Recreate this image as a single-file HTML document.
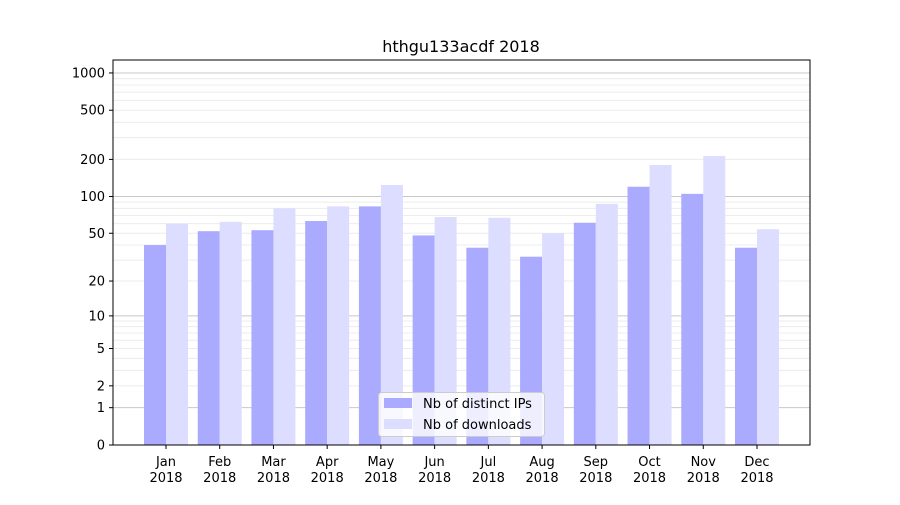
<!DOCTYPE html>
<html><head><meta charset="utf-8"><style>
body{margin:0;background:#fff;font-family:"Liberation Sans","DejaVu Sans",sans-serif}
svg text{font-family:"DejaVu Sans","Liberation Sans",sans-serif}
</style></head><body>
<svg id="chart" width="900" height="500">
<text x="461" y="52" font-size="16" text-anchor="middle">hthgu133acdf 2018</text>
<g id="grid"></g><g id="bars"></g><g id="axes"></g>
</svg>
<script>
const months=["Jan","Feb","Mar","Apr","May","Jun","Jul","Aug","Sep","Oct","Nov","Dec"];
const ipsValues=[40,52,53,63,83,48,38,32,61,120,105,38];
const downloadValues=[60,62,80,83,124,68,67,50,87,180,213,54];
const yTicks=[0,1,2,5,10,20,50,100,200,500,1000];
const NS="http://www.w3.org/2000/svg";
const L=113,R=810,T=60,B=445,PPD=124;
const y=v=>B-Math.log10(1+v)*PPD;
const xc=i=>166+i*(757-166)/11;
function mk(tag,attrs,parent,text){const e=document.createElementNS(NS,tag);for(const k in attrs)e.setAttribute(k,attrs[k]);if(text!==undefined)e.textContent=text;parent.appendChild(e);return e;}
const grid=document.getElementById('grid'),bars=document.getElementById('bars'),axes=document.getElementById('axes');
// minor grid
for(let d=0;d<4;d++){for(let m=1;m<10;m++){const v=m*Math.pow(10,d);if(v>1100)break;const yy=y(v);if(yy<T)continue;
const ln=mk('line',{x1:L,x2:R,y1:yy,y2:yy,stroke:m===1?'#c8c8c8':'#ececec','stroke-width':1},grid);

}}
months.forEach((mo,i)=>{
const a=mk('rect',{x:xc(i)-22,y:y(ipsValues[i]),width:22,height:B-y(ipsValues[i]),fill:'#aaaaff'},bars);


const b=mk('rect',{x:xc(i),y:y(downloadValues[i]),width:22,height:B-y(downloadValues[i]),fill:'#ddddff'},bars);


mk('line',{x1:xc(i),x2:xc(i),y1:B,y2:B+4,stroke:'#000'},axes);
const t=mk('text',{x:xc(i),y:B+21,'font-size':13,'text-anchor':'middle'},axes,mo);


const t2=mk('text',{x:xc(i),y:B+37,'font-size':13,'text-anchor':'middle'},axes,'2018');


});
yTicks.forEach(v=>{const yy=y(v);
mk('line',{x1:L-4,x2:L,y1:yy,y2:yy,stroke:'#000'},axes);
const t=mk('text',{x:L-8,y:yy+4.5,'font-size':13,'text-anchor':'end'},axes,String(v));

});
const frame=mk('rect',{x:L,y:T,width:R-L,height:B-T,fill:'none',stroke:'#000','stroke-width':1},axes);


const lg=mk('g',{},axes);


mk('rect',{x:378.5,y:392.5,width:166,height:44,rx:3,fill:'#fff','fill-opacity':0.8,stroke:'#ccc'},lg);
mk('rect',{x:384,y:398,width:28,height:10,fill:'#aaaaff'},lg);
mk('rect',{x:384,y:419,width:28,height:10,fill:'#ddddff'},lg);
const l1=mk('text',{x:423,y:408,'font-size':13},lg,'Nb of distinct IPs');


const l2=mk('text',{x:423,y:429,'font-size':13},lg,'Nb of downloads');


</script>
</body></html>
